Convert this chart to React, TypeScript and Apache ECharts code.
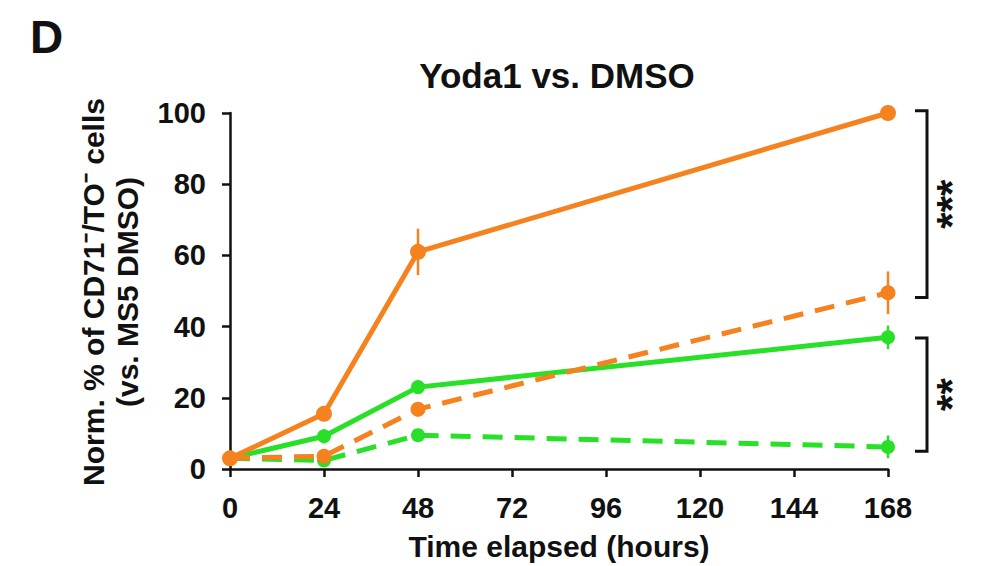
import React, { useEffect, useRef } from "react";
import * as echarts from "echarts";

const hours = [0, 24, 48, 168];
const xTicks = [0, 24, 48, 72, 96, 120, 144, 168];
const yoda1Ms5 = [3, 15.5, 61, 100];
const yoda1Ms5Err = [0.5, 1.5, 6.5, 0];
const dmsoMs5 = [3, 3.6, 16.8, 49.5];
const dmsoMs5Err = [0.5, 1, 2, 6];
const yoda1Ctrl = [3, 9.2, 23, 37];
const yoda1CtrlErr = [0.5, 2, 1.5, 3.3];
const dmsoCtrl = [3, 2.4, 9.5, 6.2];
const dmsoCtrlErr = [0.5, 1, 1, 3.2];
const titleText = "Yoda1 vs. DMSO";
const panelLabel = "D";
const yLabel1 = "Norm. % of CD71\u207B/TO\u207B cells";
const yLabel2 = "(vs. MS5 DMSO)";
const xLabel = "Time elapsed (hours)";
const sigTop = "***";
const sigBottom = "**";

const ORANGE = "#F5821F";
const GREEN = "#27E027";
const FONT = "'Liberation Sans', Arial, Helvetica, sans-serif";

function lineSeries(name: string, vals: number[], color: string, dashed: boolean, z: number, size: number) {
  return {
    name,
    type: "line",
    data: hours.map((h, i) => [h, vals[i]]),
    symbol: "circle",
    symbolSize: size,
    clip: false,
    z,
    lineStyle: { color, width: 5, type: dashed ? [20, 12] : "solid" },
    itemStyle: { color },
  };
}

function errSeries(vals: number[], errs: number[], color: string, z: number) {
  return {
    type: "custom",
    z,
    clip: false,
    data: hours.map((h, i) => [h, vals[i], errs[i]]),
    renderItem: (params: any, api: any) => {
      const x = api.value(0);
      const y = api.value(1);
      const e = api.value(2);
      const p1 = api.coord([x, y - e]);
      const p2 = api.coord([x, y + e]);
      return {
        type: "line",
        shape: { x1: p1[0], y1: p1[1], x2: p2[0], y2: p2[1] },
        style: { stroke: color, lineWidth: 2.5 },
      };
    },
  };
}

export default function App() {
  const ref = useRef<HTMLDivElement>(null);
  useEffect(() => {
    if (!ref.current) return;
    const chart = echarts.init(ref.current, null, { renderer: "svg" });
    const option: any = {
      animation: false,
      backgroundColor: "#ffffff",
      grid: { left: 230, right: 97, top: 113, bottom: 96, containLabel: false },
      xAxis: {
        type: "value",
        min: 0,
        max: 168,
        interval: 24,
        name: xLabel,
        nameLocation: "middle",
        nameGap: 62,
        nameTextStyle: { fontFamily: FONT, fontWeight: "bold", fontSize: 30, color: "#111" },
        axisLine: { show: true, lineStyle: { color: "#111", width: 2.5 } },
        axisTick: { show: true, length: 8, lineStyle: { color: "#111", width: 2.5 } },
        axisLabel: { margin: 24, fontFamily: FONT, fontWeight: "bold", fontSize: 29, color: "#111",
          customValues: xTicks },
        splitLine: { show: false },
      },
      yAxis: {
        type: "value",
        min: 0,
        max: 100,
        interval: 20,
        axisLine: { show: true, lineStyle: { color: "#111", width: 2.5 } },
        axisTick: { show: true, length: 8, lineStyle: { color: "#111", width: 2.5 } },
        axisLabel: { margin: 24, fontFamily: FONT, fontWeight: "bold", fontSize: 29, color: "#111" },
        splitLine: { show: false },
      },
      series: [
        errSeries(dmsoCtrl, dmsoCtrlErr, GREEN, 2),
        lineSeries("DMSO ctrl", dmsoCtrl, GREEN, true, 3, 14),
        errSeries(yoda1Ctrl, yoda1CtrlErr, GREEN, 4),
        lineSeries("Yoda1 ctrl", yoda1Ctrl, GREEN, false, 5, 14),
        errSeries(dmsoMs5, dmsoMs5Err, ORANGE, 6),
        lineSeries("DMSO MS5", dmsoMs5, ORANGE, true, 7, 15),
        errSeries(yoda1Ms5, yoda1Ms5Err, ORANGE, 8),
        lineSeries("Yoda1 MS5", yoda1Ms5, ORANGE, false, 9, 16),
      ],
    };
    chart.setOption(option);

    const last = hours.length - 1;
    const px = (v: number) => chart.convertToPixel({ gridIndex: 0 }, [hours[last], v]) as number[];
    const bx = px(0)[0] + 39;
    const tickLen = 12;
    const bracket = (a: number, b: number) => {
      const ya = px(a)[1];
      const yb = px(b)[1];
      return {
        type: "polyline",
        shape: { points: [[bx - tickLen, ya], [bx, ya], [bx, yb], [bx - tickLen, yb]] },
        style: { stroke: "#111", lineWidth: 3, fill: "none" },
      };
    };
    const topA = yoda1Ms5[last] + 0.6;
    const topB = dmsoMs5[last] - 1.3;
    const botA = yoda1Ctrl[last] - 0.2;
    const botB = dmsoCtrl[last] - 1.2;
    const midTop = (px(topA)[1] + px(topB)[1]) / 2;
    const midBot = (px(botA)[1] + px(botB)[1]) / 2;

    chart.setOption({
      graphic: [
        { type: "text", left: 30, top: 14, style: { text: panelLabel, fontFamily: FONT, fontWeight: "bold", fontSize: 46, fill: "#111" } },
        { type: "text", x: 557, y: 75, style: { text: titleText, fontFamily: FONT, fontWeight: "bold", fontSize: 35, fill: "#111", align: "center", verticalAlign: "middle" } },
        { type: "text", x: 93, y: 292, rotation: Math.PI / 2, style: { text: yLabel1, fontFamily: FONT, fontWeight: "bold", fontSize: 30, fill: "#111", align: "center", verticalAlign: "middle" } },
        { type: "text", x: 127, y: 292, rotation: Math.PI / 2, style: { text: yLabel2, fontFamily: FONT, fontWeight: "bold", fontSize: 30, fill: "#111", align: "center", verticalAlign: "middle" } },
        bracket(topA, topB),
        bracket(botA, botB),
        { type: "text", x: bx + 24, y: midTop, rotation: Math.PI / 2, style: { text: sigTop, fontFamily: FONT, fontWeight: "bold", fontSize: 42, fill: "#111", align: "center", verticalAlign: "middle" } },
        { type: "text", x: bx + 24, y: midBot, rotation: Math.PI / 2, style: { text: sigBottom, fontFamily: FONT, fontWeight: "bold", fontSize: 42, fill: "#111", align: "center", verticalAlign: "middle" } },
      ],
    });

    return () => chart.dispose();
  }, []);
  return <div ref={ref} style={{ width: 985, height: 566, position: "absolute", left: 0, top: 0 }} />;
}
